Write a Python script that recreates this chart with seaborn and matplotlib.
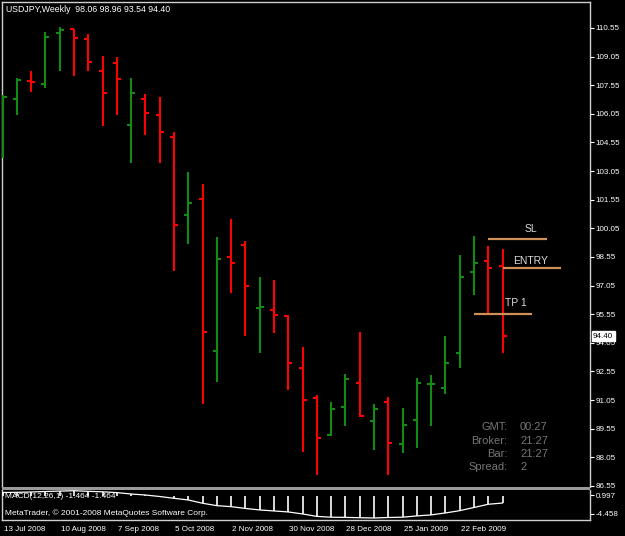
import matplotlib
matplotlib.use("Agg")
import matplotlib.pyplot as plt
import matplotlib.transforms as mtransforms
from matplotlib.patches import Rectangle
import seaborn as sns
import pandas as pd
import numpy as np

# ---------------- data (USDJPY weekly) ----------------
opens  = [104.20, 106.83, 107.76, 107.62, 110.30, 110.48, 109.97, 108.30, 108.73, 105.47,
          106.81, 105.99, 104.85, 100.75, 101.59, 93.62, 98.56, 99.19, 95.87, 95.77,
          95.46, 92.75, 91.14, 89.22, 90.70, 91.93, 89.95, 90.96, 88.73, 90.00,
          91.87, 91.67, 93.50, 97.75, 98.34, 98.06]
highs  = [107.04, 107.93, 108.31, 110.32, 110.59, 110.50, 110.24, 109.10, 109.01, 107.95,
          107.09, 106.92, 105.08, 103.02, 102.37, 99.61, 100.52, 99.40, 97.48, 97.34,
          95.51, 93.85, 91.32, 90.93, 92.40, 94.60, 90.83, 91.19, 90.65, 92.19,
          92.36, 94.42, 98.65, 99.65, 99.12, 98.96]
lows   = [103.74, 105.99, 107.21, 107.39, 108.30, 108.05, 108.31, 105.43, 105.99, 103.46,
          104.94, 103.46, 97.81, 99.21, 90.84, 92.01, 96.68, 94.41, 93.50, 94.58,
          91.58, 88.34, 87.12, 89.17, 89.71, 90.18, 88.43, 87.12, 88.26, 88.55,
          89.69, 91.37, 92.71, 96.56, 95.56, 93.54]
closes = [106.92, 107.82, 107.72, 110.09, 110.45, 110.01, 108.78, 107.16, 107.86, 107.16,
          106.11, 105.08, 100.22, 101.39, 94.60, 98.43, 98.25, 97.03, 95.91, 95.51,
          92.98, 91.05, 89.05, 90.58, 92.15, 90.22, 90.57, 88.82, 89.74, 91.96,
          91.91, 92.98, 97.52, 98.22, 97.99, 94.40]
macd   = [0.64, 0.68, 0.74, 0.84, 0.92, 0.997, 0.88, 0.78, 0.62, 0.34,
          0.14, -0.16, -0.52, -0.86, -1.51, -1.99, -2.19, -2.55, -2.85, -3.05,
          -3.25, -3.65, -4.14, -4.30, -4.34, -4.40, -4.458, -4.36, -4.30, -4.04,
          -3.84, -3.45, -2.99, -2.35, -1.71, -1.464]
week_labels = ["13 Jul 2008", "10 Aug 2008", "7 Sep 2008", "5 Oct 2008", "2 Nov 2008",
               "30 Nov 2008", "28 Dec 2008", "25 Jan 2009", "22 Feb 2009"]
week_label_idx = [0, 4, 8, 12, 16, 20, 24, 28, 32]
price_ticks = [110.55, 109.05, 107.55, 106.05, 104.55, 103.05, 101.55, 100.05,
               98.55, 97.05, 95.55, 94.05, 92.55, 91.05, 89.55, 88.05, 86.55]
level_names = ["SL", "ENTRY", "TP 1"]
level_prices = [99.48, 97.96, 95.56]
info_keys = ["GMT:", "Broker:", "Bar:", "Spread:"]
info_vals = ["00:27", "21:27", "21:27", "2"]

df = pd.DataFrame({"idx": np.arange(len(opens)), "open": opens, "high": highs,
                   "low": lows, "close": closes, "macd": macd})

# ---------------- style ----------------
sns.set_style("dark", rc={"axes.facecolor": "black", "figure.facecolor": "black",
                          "axes.edgecolor": "white", "text.color": "white",
                          "xtick.color": "white", "ytick.color": "white"})
plt.rcParams["font.family"] = ["Liberation Sans", "DejaVu Sans"]

W, H = 625, 536
fig = plt.figure(figsize=(W / 100, H / 100), dpi=100)
fig.patch.set_facecolor("black")

def fx(px):
    return px / W

def fy(py):
    return 1 - py / H

main_l, main_r, main_t, main_b = 2, 589.5, 2, 487.3
ax = fig.add_axes([fx(main_l), fy(main_b), fx(main_r - main_l), (main_b - main_t) / H])
sub_t, sub_b = 490, 520
ax2 = fig.add_axes([fx(main_l), fy(sub_b), fx(main_r - main_l), (sub_b - sub_t) / H])

for a in (ax, ax2):
    a.set_facecolor("black")
    a.grid(False)
    a.set_xlim(-0.035, 41.08)

UP, DOWN = "#138A13", "#FF0000"
colors = [UP if c >= o else DOWN for o, c in zip(df["open"], df["close"])]
tick_len = 0.28
lw = 1.5
ax.vlines(df["idx"], df["low"], df["high"], colors=colors, lw=lw, capstyle="butt", zorder=3)
ax.hlines(df["open"], df["idx"] - tick_len, df["idx"], colors=colors, lw=lw, zorder=3)
ax.hlines(df["close"], df["idx"], df["idx"] + tick_len, colors=colors, lw=lw, zorder=3)

ax.set_ylim(86.48, 111.91)
ax.yaxis.tick_right()
ax.set_yticks(price_ticks)
ax.set_yticklabels([f"{p:.2f}" for p in price_ticks], fontsize=5.8, color="white")
ax.tick_params(axis="y", length=3, width=0.8, pad=1.5, colors="white")
ax.set_xticks([])
for s in ["top", "left", "right"]:
    ax.spines[s].set_color("#D0D0D0")
    ax.spines[s].set_linewidth(1)
ax.spines["bottom"].set_visible(False)

# trade levels
level_spans = [(33.97, 38.08), (35.02, 39.06), (32.99, 37.03)]
label_pos = [(36.98, 100.01), (36.98, 98.35), (35.90, 96.14)]
for name, p, (x0, x1), (tx, ty) in zip(level_names, level_prices, level_spans, label_pos):
    ax.hlines(p, x0, x1, colors="#CF9155", lw=1.6, zorder=4)
    ax.text(tx, ty, name, color="#DADADA", fontsize=7.5, ha="center", va="center", zorder=5)

# info block
for i, (k, v) in enumerate(zip(info_keys, info_vals)):
    yy = 427.3 + i * 13.4
    fig.text(fx(507.5), fy(yy), k, color="#767676", fontsize=8, ha="right", va="center")
    fig.text(fx(520), fy(yy), v, color="#767676", fontsize=8, ha="left", va="center")

# current price box
trans = mtransforms.blended_transform_factory(ax.transAxes, ax.transData)
ax.text(1.006, closes[-1], f"{closes[-1]:.2f}", transform=trans, fontsize=5.8, color="black",
        ha="left", va="center", clip_on=False, zorder=10,
        bbox=dict(boxstyle="square,pad=0.18", facecolor="white", edgecolor="white"))

# title
fig.text(fx(6), fy(9), "USDJPY,Weekly  98.06 98.96 93.54 94.40", color="white",
         fontsize=6.3, ha="left", va="center")

# ---------------- MACD sub-window ----------------
ax2.set_ylim(-4.86, 1.14)
ax2.vlines(df["idx"], 0, df["macd"], colors="white", lw=1.2, zorder=3)
sns.lineplot(data=df, x="idx", y="macd", ax=ax2, color="white", lw=0.9, zorder=4)
ax2.set_xlabel("")
ax2.set_ylabel("")
ax2.yaxis.tick_right()
lo, hi = ax2.get_ylim()
ax2.set_yticks([lo + 0.833 * (hi - lo), lo + 0.2 * (hi - lo)])
ax2.set_yticklabels(["0.997", "-4.458"], fontsize=5.8, color="white")
ax2.tick_params(axis="y", length=3, width=0.8, pad=1.5, colors="white")
ax2.set_xticks(week_label_idx)
ax2.set_xticklabels(week_labels, fontsize=5.8, color="white", ha="left")
ax2.tick_params(axis="x", length=3, width=0.8, pad=1.5, colors="white")
offset = mtransforms.ScaledTranslation(1 / 100, 0, fig.dpi_scale_trans)
for lab in ax2.get_xticklabels():
    lab.set_transform(lab.get_transform() + offset)
for s in ["left", "right", "bottom"]:
    ax2.spines[s].set_color("#D0D0D0")
    ax2.spines[s].set_linewidth(1)
ax2.spines["top"].set_visible(False)

fig.text(fx(5), fy(497), "MACD(12,26,1) -1.464 -1.464", color="white", fontsize=6,
         ha="left", va="center")
fig.text(fx(5), fy(513.5), "MetaTrader, \u00a9 2001-2008 MetaQuotes Software Corp.",
         color="white", fontsize=6, ha="left", va="center")

# gray separator between panels
fig.patches.append(Rectangle((fx(2), fy(490)), fx(589.5 - 2), 2.8 / H, transform=fig.transFigure,
                             facecolor="#9A9A9A", edgecolor="none", zorder=10))

fig.savefig("out.png", dpi=100, facecolor="black")
